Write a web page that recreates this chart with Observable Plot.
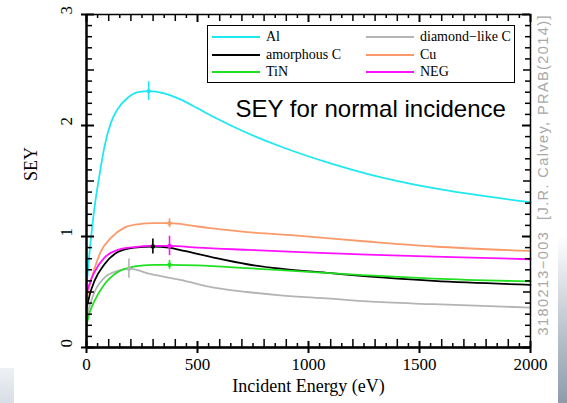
<!DOCTYPE html>
<html><head><meta charset="utf-8">
<script src="https://cdn.jsdelivr.net/npm/d3@7"></script>
<script src="https://cdn.jsdelivr.net/npm/@observablehq/plot@0.6"></script>
<style>
body{margin:0;background:#fff;}
#wrap{position:relative;width:567px;height:403px;overflow:hidden;background:#fff;}
#wrap svg{position:absolute;left:0;top:0;}
.legbox{position:absolute;left:207px;top:25px;width:308px;height:58px;box-sizing:border-box;border:1.5px solid #000;background:#fff;}
.leg{position:absolute;height:18px;display:flex;align-items:center;font-family:"Liberation Serif",serif;font-size:14px;color:#000;white-space:nowrap;}
.leg span.sw{display:inline-block;width:48px;height:2px;margin-right:6px;}
.deco1{position:absolute;left:0;top:368px;width:14px;height:35px;background:linear-gradient(#eef1f4,#d8dee5);}
.deco2{position:absolute;left:558px;top:235px;width:9px;height:168px;background:linear-gradient(#ffffff,#b7c1cb 60%,#8e9caa);}
</style></head><body><div id="wrap"></div>
<script>
// ---- data ----
const seriesNames = ["Al", "diamond−like C", "amorphous C", "Cu", "TiN", "NEG"];
const seriesColors = ["#20e8f0", "#b4b4b4", "#000000", "#fa9a6a", "#20e020", "#ff10ff"];

const alE   = [0, 13, 36, 59, 81, 111, 141, 186, 231, 280, 350, 423, 500, 573, 724, 874, 1099, 1264, 1564, 2000];
const alSEY = [0.55, 0.84, 1.26, 1.56, 1.81, 2.03, 2.15, 2.25, 2.30, 2.31, 2.29, 2.235, 2.155, 2.076, 1.932, 1.811, 1.659, 1.565, 1.435, 1.31];

const dlcE   = [0, 15, 36, 81, 141, 191, 291, 423, 573, 724, 874, 1099, 1264, 1564, 2000];
const dlcSEY = [0.27, 0.38, 0.50, 0.63, 0.69, 0.71, 0.66, 0.61, 0.54, 0.50, 0.47, 0.44, 0.415, 0.39, 0.36];

const acE   = [0, 15, 36, 81, 141, 216, 299, 370, 441, 573, 724, 874, 1099, 1264, 1564, 2000];
const acSEY = [0.35, 0.48, 0.60, 0.75, 0.86, 0.90, 0.91, 0.90, 0.87, 0.81, 0.75, 0.71, 0.67, 0.64, 0.60, 0.565];

const cuE   = [0, 13, 36, 66, 111, 171, 231, 300, 374, 500, 724, 964, 1264, 1564, 2000];
const cuSEY = [0.42, 0.55, 0.71, 0.87, 0.99, 1.08, 1.11, 1.12, 1.12, 1.09, 1.04, 1.005, 0.955, 0.91, 0.87];

const tinE   = [0, 15, 36, 81, 141, 216, 300, 374, 500, 724, 964, 1264, 1564, 2000];
const tinSEY = [0.20, 0.32, 0.42, 0.57, 0.68, 0.73, 0.745, 0.745, 0.74, 0.715, 0.685, 0.65, 0.62, 0.595];

const negE   = [0, 1, 15, 36, 81, 141, 216, 300, 374, 500, 724, 964, 1264, 1564, 2000];
const negSEY = [0.00, 0.48, 0.58, 0.68, 0.81, 0.88, 0.905, 0.915, 0.915, 0.9, 0.88, 0.86, 0.837, 0.818, 0.795];

// peak markers with error bars: Al, DLC, amorphous C, Cu, TiN, NEG
const peakE   = [280, 191, 299, 374, 374, 374];
const peakSEY = [2.31, 0.71, 0.91, 1.12, 0.745, 0.915];
const peakErr = [0.085, 0.087, 0.068, 0.04, 0.04, 0.087];

const xMajor = [0, 500, 1000, 1500, 2000];
const yMajor = [0, 1, 2, 3];
const xLabel = "Incident Energy (eV)";
const yLabel = "SEY";
const titleText = "SEY for normal incidence";
const noteText = "3180213−003  [J.R. Calvey, PRAB(2014)]";

// ---- build tables ----
const seriesE = [alE, dlcE, acE, cuE, tinE, negE];
const seriesV = [alSEY, dlcSEY, acSEY, cuSEY, tinSEY, negSEY];
const drawOrder = [0, 1, 2, 4, 3, 5];
const rows = [];
for (const i of drawOrder) seriesE[i].forEach((e, j) => rows.push({name: seriesNames[i], E: e, SEY: seriesV[i][j]}));
const peaks = seriesNames.map((n, i) => ({name: n, E: peakE[i], SEY: peakSEY[i], err: peakErr[i]}));

const xMinor = d3.range(50, 2000, 100);
const xMid = d3.range(100, 2000, 100).filter(v => v % 500 !== 0);
const yMinor = d3.range(1, 30).filter(i => i % 5 !== 0).map(i => i / 10);
const yHalf = [0.5, 1.5, 2.5];

const W = 567, H = 403, ML = 86, MR = 37, MT = 14, MB = 56;
const IW = W - ML - MR, IH = H - MT - MB;

const chart = Plot.plot({
  width: W, height: H,
  marginLeft: ML, marginRight: MR, marginTop: MT, marginBottom: MB,
  style: {fontFamily: "'Liberation Serif', serif", fontSize: "17px", background: "transparent", overflow: "visible"},
  x: {domain: [0, 2000], axis: null},
  y: {domain: [0, 3], axis: null},
  color: {domain: seriesNames, range: seriesColors},
  marks: [
    Plot.line(rows, {x: "E", y: "SEY", z: "name", stroke: "name", strokeWidth: 1.8, curve: "monotone-x"}),
    Plot.ruleX(peaks, {x: "E", y1: d => d.SEY - d.err, y2: d => d.SEY + d.err, stroke: "name", strokeWidth: 1.6}),
    Plot.dot(peaks, {x: "E", y: "SEY", r: 2.2, fill: "name", stroke: null}),
    Plot.frame({stroke: "#000", strokeWidth: 1.5}),
    Plot.ruleX([0], {x: d => d, stroke: "#000", strokeWidth: 2.3}),
    Plot.ruleY([0], {y: d => d, stroke: "#000", strokeWidth: 2.3}),
    // bottom ticks
    Plot.tickX(xMinor, {x: d => d, insetTop: IH - 4, strokeWidth: 1.5}),
    Plot.tickX(xMid, {x: d => d, insetTop: IH - 8, strokeWidth: 1.5}),
    Plot.tickX(xMajor, {x: d => d, insetTop: IH - 6, insetBottom: -6, strokeWidth: 2}),
    // top ticks
    Plot.tickX(xMinor, {x: d => d, insetBottom: IH - 4, strokeWidth: 1.5}),
    Plot.tickX(xMid, {x: d => d, insetBottom: IH - 7, strokeWidth: 1.5}),
    Plot.tickX(xMajor, {x: d => d, insetBottom: IH - 8, strokeWidth: 2}),
    // left ticks
    Plot.tickY(yMinor, {y: d => d, insetRight: IW - 6, strokeWidth: 1.5}),
    Plot.tickY(yHalf, {y: d => d, insetRight: IW - 8, strokeWidth: 1.5}),
    Plot.tickY(yMajor, {y: d => d, insetLeft: -5, insetRight: IW - 8, strokeWidth: 2}),
    // right ticks
    Plot.tickY(yMinor, {y: d => d, insetLeft: IW - 5, strokeWidth: 1.5}),
    Plot.tickY(yHalf, {y: d => d, insetLeft: IW - 7, strokeWidth: 1.5}),
    Plot.tickY(yMajor, {y: d => d, insetLeft: IW - 8, strokeWidth: 2}),
    // tick labels
    Plot.text(xMajor, {x: d => d, frameAnchor: "bottom", dy: 22, text: d => String(d), fontSize: 17, fill: "#000"}),
    Plot.text(yMajor, {y: d => d, frameAnchor: "left", dx: -20, rotate: -90, text: d => String(d), fontSize: 17, fill: "#000"}),
    // axis titles
    Plot.text([xLabel], {frameAnchor: "bottom", dy: 44, text: d => d, fontSize: 18, fill: "#000"}),
    Plot.text([yLabel], {frameAnchor: "left", dx: -55, rotate: -90, text: d => d, fontSize: 18, fill: "#000"}),
    // in-plot title
    Plot.text([titleText], {frameAnchor: "top-left", dx: 235 - ML, dy: 116 - MT, lineAnchor: "bottom", textAnchor: "start", text: d => d, fontFamily: "'Liberation Sans', Arial, sans-serif", fontSize: 24, fill: "#000"}),
    // side note
    Plot.text([noteText], {frameAnchor: "bottom-right", dx: 17, dy: -12, rotate: -90, lineAnchor: "bottom", textAnchor: "start", text: d => d, fontFamily: "'Liberation Sans', Arial, sans-serif", fontSize: 14.5, fill: "#a8a8a8"})
  ]
});

const wrap = document.getElementById("wrap");
const d1 = document.createElement("div"); d1.className = "deco1"; wrap.appendChild(d1);
const d2 = document.createElement("div"); d2.className = "deco2"; wrap.appendChild(d2);
wrap.appendChild(chart);
d3.select(chart).selectAll("text").filter(function() { return this.textContent === noteText; })
  .attr("textLength", 320).attr("lengthAdjust", "spacing");

// legend
const box = document.createElement("div"); box.className = "legbox"; wrap.appendChild(box);
const colX = [212, 366];
const rowY = [37, 54.5, 72];
seriesNames.forEach((n, i) => {
  const e = document.createElement("div");
  e.className = "leg";
  e.style.left = colX[i % 2] + "px";
  e.style.top = (rowY[Math.floor(i / 2)] - 9) + "px";
  const sw = document.createElement("span"); sw.className = "sw"; sw.style.background = seriesColors[i];
  e.appendChild(sw);
  e.appendChild(document.createTextNode(n));
  wrap.appendChild(e);
});
</script></body></html>
